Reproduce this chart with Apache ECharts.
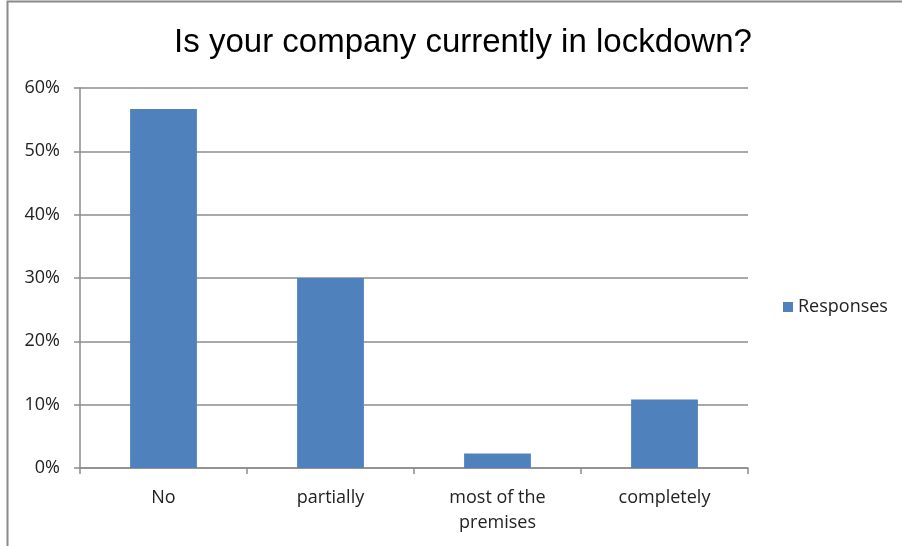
<!DOCTYPE html>
<html>
<head>
<meta charset="utf-8">
<script src="https://cdn.jsdelivr.net/npm/echarts@6/dist/echarts.min.js"></script>
<style>
  html, body { margin: 0; padding: 0; background: #fff; }
  #chart { width: 902px; height: 546px; }
</style>
</head>
<body>
<div id="chart"></div>
<script>
// data
const categories = ['No', 'partially', 'most of the premises', 'completely']
const responses = [56.7, 30.0, 2.3, 10.8]
const yTicks = [0, 10, 20, 30, 40, 50, 60]

const chart = echarts.init(document.getElementById('chart'))
const labelFont = '"Open Sans", "Noto Sans", sans-serif'
const lineColor = '#8c8c8c'

chart.setOption({
  animation: false,
  graphic: [{
    type: 'rect',
    shape: { x: 7.5, y: 1.5, width: 1000, height: 1000 },
    style: { fill: 'none', stroke: '#8a8a8a', lineWidth: 2 }
  }],
  title: {
    text: 'Is your company currently in lockdown?',
    left: 458,
    textAlign: 'center',
    top: 21,
    textStyle: {
      fontFamily: '"Liberation Sans", Arial, sans-serif',
      fontWeight: 'normal',
      fontSize: 33,
      color: '#000'
    }
  },
  legend: {
    data: ['Responses'],
    orient: 'vertical',
    left: 778,
    top: 293,
    icon: 'rect',
    itemWidth: 10,
    itemHeight: 10,
    textStyle: { fontFamily: labelFont, fontSize: 18, color: '#222' }
  },
  grid: { left: 80, right: 154, top: 88, bottom: 78 },
  xAxis: {
    type: 'category',
    data: categories,
    axisLine: { lineStyle: { color: lineColor, width: 1.5 } },
    axisTick: { show: true, length: 6, lineStyle: { color: lineColor, width: 1.5 } },
    axisLabel: {
      interval: 0,
      margin: 17,
      lineHeight: 25,
      fontFamily: labelFont,
      fontSize: 18,
      color: '#222',
      formatter: v => v === 'most of the premises' ? 'most of the\npremises' : v
    },
    splitLine: { show: false }
  },
  yAxis: {
    type: 'value',
    min: yTicks[0],
    max: yTicks[yTicks.length - 1],
    interval: yTicks[1] - yTicks[0],
    axisLine: { show: true, lineStyle: { color: lineColor, width: 1.5 } },
    axisTick: { show: true, length: 6, lineStyle: { color: lineColor, width: 1.5 } },
    axisLabel: {
      margin: 20,
      fontFamily: labelFont,
      fontSize: 18,
      color: '#222',
      formatter: v => v + '%'
    },
    splitLine: { lineStyle: { color: lineColor, width: 1.5 } }
  },
  series: [{
    name: 'Responses',
    type: 'bar',
    data: responses,
    barWidth: '40%',
    itemStyle: { color: '#4f81bd' }
  }]
})
</script>
</body>
</html>
